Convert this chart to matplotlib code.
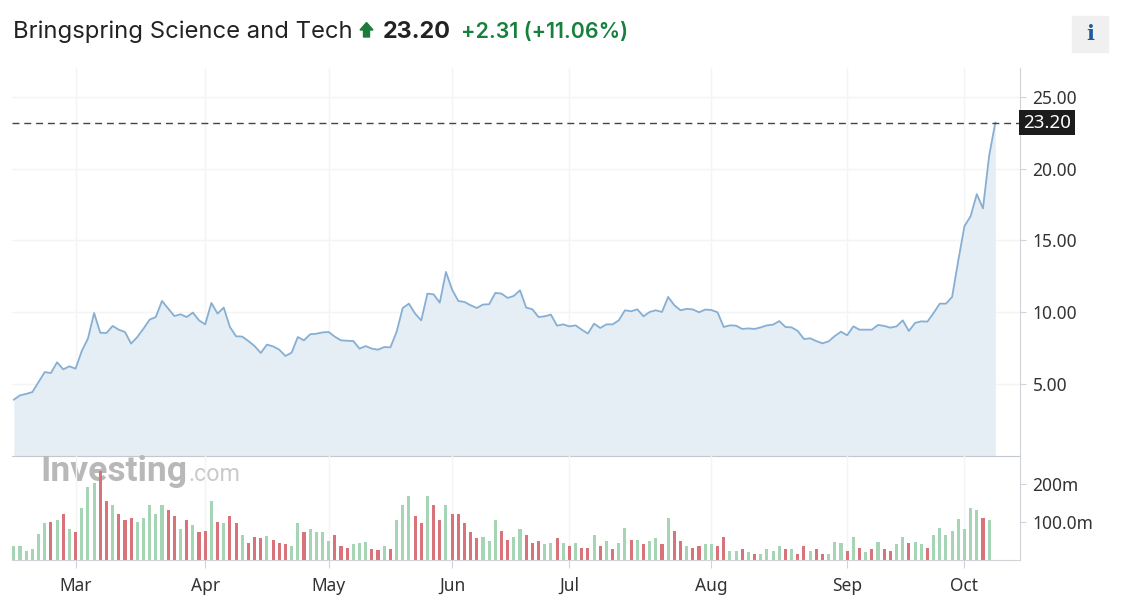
import matplotlib
matplotlib.use("Agg")
import matplotlib.pyplot as plt
from matplotlib.patches import Rectangle, Polygon
from matplotlib.transforms import blended_transform_factory

W, H = 1126, 612

title = "Bringspring Science and Tech"
last_price = 23.20
change = 2.31
change_pct = 11.06

# daily closes, mid Feb -> mid Oct
price = [3.92, 4.22, 4.32, 4.45, 5.15, 5.84, 5.77, 6.52, 6.03, 6.24,
         6.08, 7.30, 8.17, 9.95, 8.58, 8.56, 9.05, 8.79, 8.63, 7.82,
         8.28, 8.86, 9.49, 9.67, 10.79, 10.26, 9.74, 9.86, 9.67, 9.98,
         9.44, 9.16, 10.65, 9.91, 10.33, 8.98, 8.33, 8.31, 8.00, 7.65,
         7.17, 7.75, 7.63, 7.40, 6.96, 7.19, 8.28, 8.05, 8.47, 8.51,
         8.60, 8.63, 8.30, 8.05, 8.02, 8.00, 7.47, 7.65, 7.47, 7.40,
         7.58, 7.56, 8.63, 10.30, 10.60, 9.91, 9.44, 11.30, 11.25, 10.67,
         12.81, 11.58, 10.79, 10.72, 10.49, 10.30, 10.54, 10.56, 11.35, 11.30,
         11.00, 11.14, 11.53, 10.33, 10.21, 9.67, 9.72, 9.84, 9.07, 9.16,
         9.02, 9.09, 8.79, 8.52, 9.21, 8.91, 9.16, 9.16, 9.44, 10.14,
         10.07, 10.21, 9.72, 10.02, 10.14, 10.02, 11.07, 10.49, 10.14, 10.24,
         10.20, 10.00, 10.19, 10.16, 10.00, 8.98, 9.09, 9.07, 8.84, 8.88,
         8.84, 8.95, 9.09, 9.14, 9.39, 8.98, 8.95, 8.70, 8.14, 8.19,
         8.00, 7.84, 7.98, 8.35, 8.65, 8.40, 9.02, 8.79, 8.79, 8.79,
         9.12, 9.05, 8.93, 9.02, 9.44, 8.70, 9.26, 9.37, 9.35, 9.95,
         10.60, 10.60, 11.07, 13.60, 15.99, 16.69, 18.22, 17.23, 20.89, 23.20]

# daily volume in millions
volume = [37, 37, 23, 29, 68, 97, 101, 106, 121, 83,
          73, 137, 193, 204, 235, 157, 146, 122, 106, 111,
          101, 111, 146, 121, 146, 132, 116, 82, 106, 92,
          73, 76, 156, 101, 97, 116, 97, 65, 45, 61,
          57, 64, 52, 45, 41, 37, 97, 73, 82, 73,
          73, 49, 65, 37, 33, 41, 45, 48, 29, 26,
          37, 29, 106, 146, 170, 116, 97, 170, 146, 106,
          146, 122, 122, 97, 73, 57, 61, 49, 106, 78,
          52, 61, 82, 65, 45, 49, 41, 45, 57, 45,
          37, 45, 33, 33, 65, 37, 49, 29, 45, 85,
          52, 52, 41, 49, 57, 41, 111, 78, 49, 37,
          33, 37, 43, 41, 37, 61, 23, 23, 29, 22,
          17, 17, 29, 23, 37, 29, 29, 17, 37, 23,
          29, 17, 17, 48, 45, 23, 61, 33, 20, 29,
          48, 29, 23, 43, 61, 45, 48, 41, 33, 65,
          85, 65, 76, 108, 82, 137, 132, 110, 106]

# 1 = up day (green bar), 0 = down day (red bar)
up = [1, 1, 1, 1, 1, 1, 0, 1, 0, 1,
      0, 1, 1, 1, 0, 0, 1, 0, 0, 0,
      1, 1, 1, 1, 1, 0, 0, 1, 0, 1,
      0, 0, 1, 0, 1, 0, 0, 1, 0, 0,
      0, 1, 0, 0, 0, 1, 1, 0, 1, 1,
      1, 1, 0, 0, 0, 1, 1, 1, 0, 0,
      1, 0, 1, 1, 1, 0, 0, 1, 0, 0,
      1, 0, 0, 0, 0, 0, 1, 1, 1, 0,
      0, 1, 1, 0, 0, 0, 1, 1, 0, 1,
      0, 1, 0, 0, 1, 0, 1, 0, 1, 1,
      0, 1, 0, 1, 1, 0, 1, 0, 0, 1,
      0, 0, 1, 1, 0, 0, 1, 1, 0, 1,
      0, 1, 1, 1, 1, 0, 1, 0, 0, 1,
      0, 0, 1, 1, 1, 0, 1, 0, 1, 0,
      1, 0, 0, 1, 1, 0, 1, 1, 0, 1,
      1, 1, 1, 1, 1, 1, 1, 0, 1]

month_labels = ["Mar", "Apr", "May", "Jun", "Jul", "Aug", "Sep", "Oct"]
month_starts = [10, 31, 51, 71, 90, 113, 135, 154]   # trading-day index
price_ticks = [5, 10, 15, 20, 25]
volume_ticks = [100, 200]
volume_tick_labels = ["100.0m", "200m"]

LINE = "#86afd3"
FILL = "#e5edf5"
GREEN = "#a5d5b4"
RED = "#d9737b"
AXIS = "#d0d4d8"
TXT = "#333333"
FONT = "Noto Sans"

fig = plt.figure(figsize=(W / 100, H / 100), dpi=100)
fig.patch.set_facecolor("white")


def rect(l, t, r, b):
    return [l / W, 1 - b / H, (r - l) / W, (b - t) / H]


def px(x, y):
    return (x / W, 1 - y / H)


ax = fig.add_axes(rect(12, 68, 1020, 456))
axv = fig.add_axes(rect(12, 456, 1020, 560), sharex=ax)

# price pane
days = list(range(len(price)))
ax.fill_between(days, price, 0, color=FILL, lw=0, zorder=1)
ax.plot(days, price, color=LINE, lw=1.3, zorder=2)
ax.axhline(last_price, color="#444444", lw=1.0, ls=(0, (5, 3.5)), zorder=3)
ax.set_xlim(-0.3, 163)
ax.set_ylim(0, 27)
ax.set_yticks(price_ticks)
ax.set_yticklabels([f"{t:.2f}" for t in price_ticks])
ax.yaxis.tick_right()
ax.set_xticks(month_starts)
ax.tick_params(axis="x", length=0, labelbottom=False)
ax.tick_params(axis="y", length=4, color=AXIS, pad=5, labelsize=12.5,
               labelcolor=TXT)
ax.grid(True, color="#f4f4f4", lw=1, zorder=0)
ax.set_axisbelow(True)
for s in ["left", "top"]:
    ax.spines[s].set_visible(False)
ax.spines["right"].set_color(AXIS)
ax.spines["bottom"].set_color("#c3c8ce")
for lab in ax.get_yticklabels():
    lab.set_family(FONT)

# last price tag
tr = blended_transform_factory(ax.transAxes, ax.transData)
ax.text(1.003, last_price, f"{last_price:.2f}", transform=tr, ha="left",
        va="center", color="white", fontsize=13.5, family=FONT,
        bbox=dict(boxstyle="square,pad=0.2", fc="#1c1c1c", ec="none"),
        clip_on=False, zorder=5)

# volume pane
vdays = list(range(len(volume)))
colors = [GREEN if u else RED for u in up]
axv.bar(vdays, volume, width=0.5, color=colors, zorder=2)
axv.set_ylim(0, 275)
axv.set_yticks(volume_ticks)
axv.set_yticklabels(volume_tick_labels)
axv.yaxis.tick_right()
axv.set_xticks(month_starts)
axv.set_xticklabels(month_labels)
axv.tick_params(axis="x", length=6, color=AXIS, pad=6, labelsize=12.5,
                labelcolor=TXT)
axv.tick_params(axis="y", length=4, color=AXIS, pad=5, labelsize=12.5,
                labelcolor=TXT)
axv.grid(True, axis="x", color="#f4f4f4", lw=1, zorder=0)
axv.set_axisbelow(True)
for s in ["left", "top"]:
    axv.spines[s].set_visible(False)
axv.spines["right"].set_color(AXIS)
axv.spines["bottom"].set_color(AXIS)
for lab in axv.get_xticklabels() + axv.get_yticklabels():
    lab.set_family(FONT)

renderer = fig.canvas.get_renderer()


def fit_text(x, y, s, width_px, size, **kw):
    t = fig.text(x / W, 1 - y / H, s, fontsize=size, va="baseline", **kw)
    w = t.get_window_extent(renderer).width
    t.set_fontsize(size * width_px / w)
    return t


# header
fit_text(13, 38, title, 339, 15, family="Inter", color="#222222")
# up arrow icon
fig.patches.append(Polygon([px(360, 30), px(366.5, 22.5), px(373, 30),
                            px(369.5, 30), px(369.5, 37), px(363.5, 37),
                            px(363.5, 30)], closed=True,
                           transform=fig.transFigure, color="#1e7b3c"))
fit_text(383, 38, f"{last_price:.2f}", 68, 17, family="Inter",
         weight="bold", color="#222222")
fit_text(461, 38, f"+{change:.2f} (+{change_pct:.2f}%)", 167, 13,
         family="Inter", weight="semibold", color="#17803d")

# info button
fig.patches.append(Rectangle(px(1072, 52), 36 / W, 36 / H,
                             transform=fig.transFigure, color="#f0f0f0",
                             zorder=0))
fig.text(1090 / W, 1 - 34 / H, "i", fontsize=15, family="DejaVu Serif",
         weight="bold", color="#1d5c9c", ha="center", va="center")

# watermark
fit_text(40, 481, "Investing", 147, 22, family="Roboto", weight="bold",
         color="#b8b8b8", zorder=0)
fit_text(188, 481, ".com", 52, 16, family="Roboto", color="#cacaca",
         zorder=0)
axv.set_zorder(2)
axv.patch.set_alpha(0)

fig.savefig("out.png", dpi=100)
